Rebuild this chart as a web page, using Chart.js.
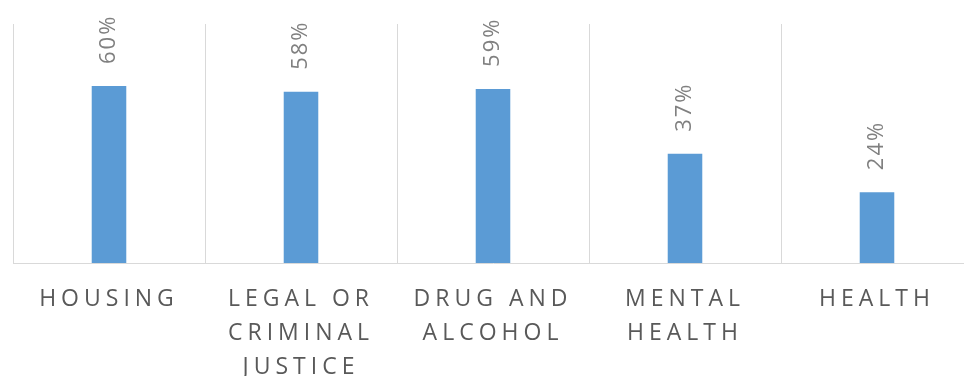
<!DOCTYPE html>
<html>
<head>
<meta charset="utf-8">
<script src="https://cdn.jsdelivr.net/npm/chart.js@4"></script>
<style>
  html, body { margin: 0; padding: 0; background: #fff; overflow: hidden; }
  #wrap { width: 976px; height: 376px; }
</style>
</head>
<body>
<div id="wrap"><canvas id="issuesChart"></canvas></div>
<script>
// values
const categories = [
    ['HOUSING'],
    ['LEGAL OR', 'CRIMINAL', 'JUSTICE'],
    ['DRUG AND', 'ALCOHOL'],
    ['MENTAL', 'HEALTH'],
    ['HEALTH']
];
const percentValues = [60, 58, 59, 37, 24];

const labelFont = '"Open Sans", "Liberation Sans", sans-serif';

// draws the rotated "60%" style labels above each bar
const barValueLabels = {
    id: 'barValueLabels',
    beforeDraw(chart) {
        chart.ctx.letterSpacing = '5px'; // spaced-out category labels
    },
    afterDatasetsDraw(chart) {
        const ctx = chart.ctx;
        const meta = chart.getDatasetMeta(0);
        meta.data.forEach((bar, i) => {
            ctx.save();
            ctx.letterSpacing = '2px';
            ctx.font = '22px ' + labelFont;
            ctx.fillStyle = '#808080';
            ctx.translate(bar.x, bar.y - 22);
            ctx.rotate(-Math.PI / 2);
            ctx.textAlign = 'left';
            ctx.textBaseline = 'middle';
            ctx.fillText(percentValues[i] + '%', 0, 0);
            ctx.restore();
        });
    }
};

const ctx = document.getElementById('issuesChart').getContext('2d');
new Chart(ctx, {
    type: 'bar',
    data: {
        labels: categories,
        datasets: [{
            data: percentValues,
            backgroundColor: '#5b9bd5',
            borderWidth: 0,
            categoryPercentage: 1,
            barPercentage: 0.18
        }]
    },
    options: {
        responsive: true,
        maintainAspectRatio: false,
        animation: false,
        layout: { padding: { left: 13, right: 3, top: 24, bottom: 0 } },
        plugins: {
            legend: { display: false },
            tooltip: { enabled: false }
        },
        scales: {
            x: {
                afterFit: scale => { scale.height = 113; },
                grid: {
                    display: true,
                    offset: true,
                    color: '#d9d9d9',
                    drawTicks: false
                },
                border: { color: '#d9d9d9', width: 1 },
                ticks: {
                    color: '#595959',
                    autoSkip: false,
                    maxRotation: 0,
                    padding: 19,
                    font: { family: labelFont, size: 23, lineHeight: 1.48 }
                }
            },
            y: {
                display: false,
                min: 0,
                max: 81
            }
        }
    },
    plugins: [barValueLabels]
});
</script>
</body>
</html>
